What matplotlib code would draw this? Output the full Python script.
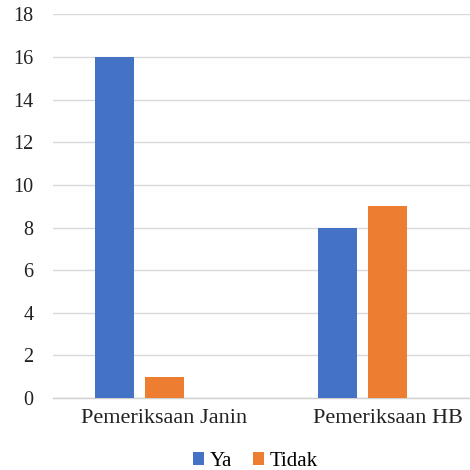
import numpy as np
import matplotlib.pyplot as plt

categories = ["Pemeriksaan Janin", "Pemeriksaan HB"]
series_names = ["Ya", "Tidak"]
ya = [16, 8]
tidak = [1, 9]
y_ticks = [0, 2, 4, 6, 8, 10, 12, 14, 16, 18]

colors = ["#4472C4", "#ED7D31"]

plt.rcParams['font.family'] = ['Liberation Serif', 'DejaVu Serif']

fig = plt.figure(figsize=(4.7, 4.7), dpi=100)
# plot area runs off the right side of the figure
ax = fig.add_axes([0.1128, 0.1532, 0.949, 0.816])

x = np.arange(len(categories))
width = 0.175
step = 0.224
for i, (vals, name) in enumerate(zip([ya, tidak], series_names)):
    ax.bar(x + (i - 1) * step, vals, width, color=colors[i], label=name, zorder=3)

ax.set_xlim(-0.5, 1.5)
ax.set_ylim(0, 18)
ax.set_yticks(y_ticks)
ax.set_xticks(x)
ax.set_xticklabels(categories)
ax.tick_params(axis='both', length=0, colors='#222222')
ax.tick_params(axis='y', pad=14, labelsize=14.5)
ax.tick_params(axis='x', pad=8, labelsize=16)
ax.grid(axis='y', color='#D9D9D9', linewidth=1.0, zorder=0)
for side in ['top', 'right', 'left']:
    ax.spines[side].set_visible(False)
ax.spines['bottom'].set_color('#D0D0D0')
ax.spines['bottom'].set_linewidth(1.0)

fig.legend(loc='center', bbox_to_anchor=(0.543, 0.018), ncol=2, frameon=False,
           fontsize=15, handlelength=0.55, handleheight=0.55, handletextpad=0.25,
           columnspacing=1.0)

fig.savefig("out.png", dpi=100)
